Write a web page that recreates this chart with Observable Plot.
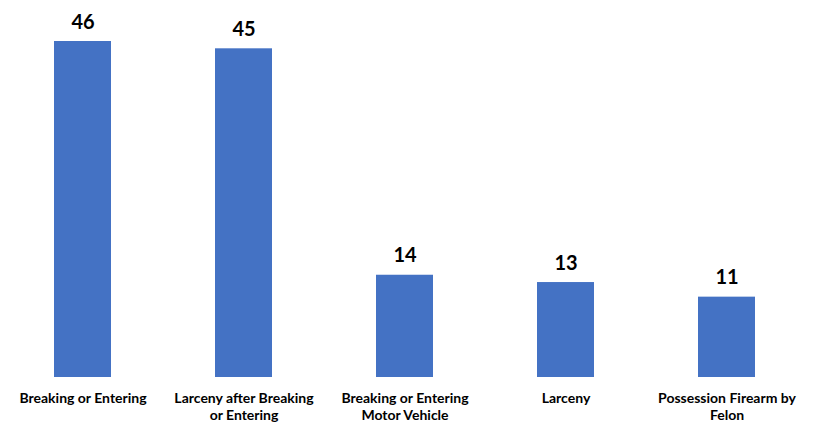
<!DOCTYPE html>
<html>
<head>
<meta charset="utf-8">
<script src="https://cdn.jsdelivr.net/npm/d3@7"></script>
<script src="https://cdn.jsdelivr.net/npm/@observablehq/plot@0.6"></script>
<style>
  html, body { margin: 0; padding: 0; background: #fff; }
  #chart svg { display: block; }
</style>
</head>
<body>
<div id="chart"></div>
<script>
const categories = [
  "Breaking or Entering",
  "Larceny after Breaking or Entering",
  "Breaking or Entering Motor Vehicle",
  "Larceny",
  "Possession Firearm by Felon"
];
const tickLabels = [
  "Breaking or Entering",
  "Larceny after Breaking\nor Entering",
  "Breaking or Entering\nMotor Vehicle",
  "Larceny",
  "Possession Firearm by\nFelon"
];
const values = [46, 45, 14, 13, 11];

const data = categories.map((c, i) => ({category: c, value: values[i], label: tickLabels[i]}));

const chart = Plot.plot({
  width: 818,
  height: 424,
  marginLeft: 0,
  marginRight: 9,
  marginTop: 41,
  marginBottom: 47,
  style: {fontFamily: "Lato, 'Open Sans', sans-serif", background: "#fff"},
  x: {domain: categories, paddingInner: 0.645, paddingOuter: 0.3225, axis: null},
  y: {domain: [0, 46], axis: null},
  marks: [
    Plot.barY(data, {x: "category", y: "value", fill: "#4472C4"}),
    Plot.text(data, {x: "category", y: "value", text: d => String(d.value), lineAnchor: "bottom", dy: -13, fontSize: 20, fontWeight: "bold", fill: "#000"}),
    Plot.text(data, {x: "category", y: () => 0, text: "label", lineAnchor: "top", dy: 13, fontSize: 14, fontWeight: "bold", lineHeight: 1.25, fill: "#000"})
  ]
});
document.getElementById("chart").appendChild(chart);
</script>
</body>
</html>
